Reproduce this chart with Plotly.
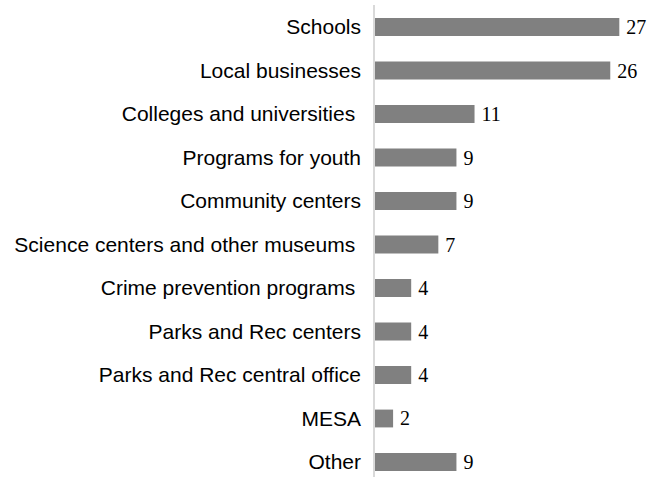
import plotly.graph_objects as go

categories = ["Schools", "Local businesses", "Colleges and universities ", "Programs for youth",
              "Community centers", "Science centers and other museums ", "Crime prevention programs ",
              "Parks and Rec centers", "Parks and Rec central office", "MESA", "Other"]
values = [27, 26, 11, 9, 9, 7, 4, 4, 4, 2, 9]

fig = go.Figure(go.Bar(
    y=categories, x=values, orientation="h",
    marker=dict(color="#808080", line=dict(width=0)),
    texttemplate="\u2009%{x}", textposition="outside", cliponaxis=False, constraintext="none",
    textfont=dict(family="Liberation Serif", size=20, color="#000000"),
))

fig.update_layout(
    width=648, height=477,
    margin=dict(l=375, r=0, t=5, b=0),
    paper_bgcolor="white", plot_bgcolor="white",
    bargap=0.59,
    showlegend=False,
    font=dict(family="Liberation Sans", size=21, color="#000000"),
)
fig.update_xaxes(range=[0, 30.17], visible=False)
fig.update_yaxes(
    categoryorder="array", categoryarray=categories,
    range=[10.345, -0.506],
    showline=True, linecolor="#d9d9d9", linewidth=1.5,
    showgrid=False, ticks="", zeroline=False,
    tickfont=dict(family="Liberation Sans", size=21, color="#000000"),
    ticklabelstandoff=8,
)
fig.write_html("out.html")
